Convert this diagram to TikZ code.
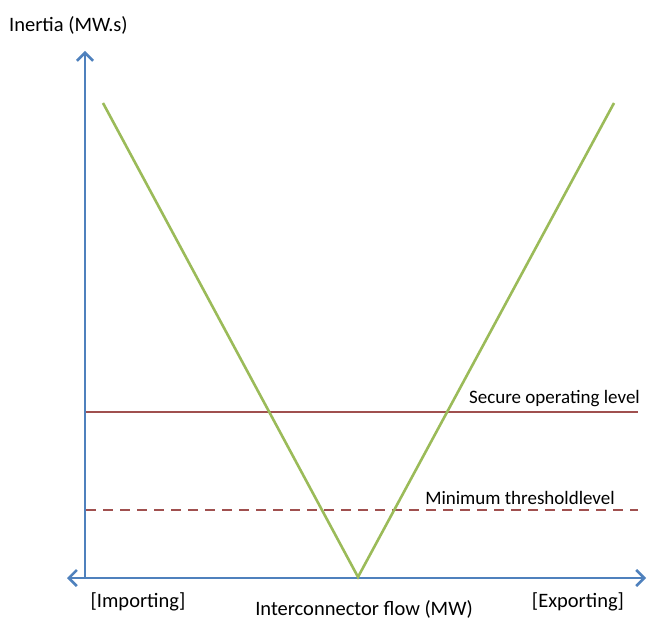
\documentclass[tikz,border=0pt]{standalone}
\usepackage{fontspec}
\setmainfont{Carlito}
\usetikzlibrary{arrows.meta,positioning}
\definecolor{axisblue}{HTML}{4F81BD}
\definecolor{vgreen}{HTML}{9BBB59}
\definecolor{levelred}{HTML}{A0504F}
\tikzset{
  inertia/.style={
    x=1pt, y=1pt,
    every node/.style={font=\fontsize{20.5}{24}\selectfont, inner sep=1pt},
    levellabel/.style={font=\fontsize{19}{22}\selectfont},
    >={Straight Barb[length=8pt,width=16pt,line width=2.6pt]},
    axis/.style={
        draw=axisblue,
        line width=2.8pt,
    },
    vline/.style={draw=vgreen, line width=2.6pt},
    level/.style={draw=levelred, line width=2pt},
    minlevel/.style={level, dash pattern=on 10pt off 7pt},
  }
}

\begin{document}
\begin{tikzpicture}[inertia]
    \useasboundingbox (0,0) rectangle (647,619);
    % axes
    \coordinate (origin) at (85,41);
    \coordinate (ytop) at (85,568);
    \coordinate (xleft) at (67,41);
    \coordinate (xright) at (646,41);
    \draw[axis, ->] (origin) -- (ytop);
    \draw[axis, <->] (xleft) -- (xright);
    % levels
    \coordinate (secure start) at (86,207);
    \coordinate (secure end) at (638,207);
    \coordinate (min start) at (86,109);
    \coordinate (min end) at (638,109);
    \draw[level] (secure start) -- (secure end);
    \draw[minlevel] (min start) -- (min end);
    % inertia curve
    \coordinate (vleft) at (103,516);
    \coordinate (vbottom) at (358,42);
    \coordinate (vright) at (614,516);
    \draw[vline] (vleft) -- (vbottom) -- (vright);
    % labels
    \node[anchor=west] (ylabel) at (8,594) {Inertia (MW.s)};
    \node[levellabel, anchor=south east] (securelabel) at (641,211) {Secure operating level};
    \node[levellabel, anchor=south] (minlabel) at (520,113) {Minimum thresholdlevel};
    \node (importing) at (138,17) {[Importing]};
    \node (exporting) at (578,17) {[Exporting]};
    \node[anchor=base] (xlabel) at (364,4) {Interconnector flow (MW)};
\end{tikzpicture}
\end{document}
